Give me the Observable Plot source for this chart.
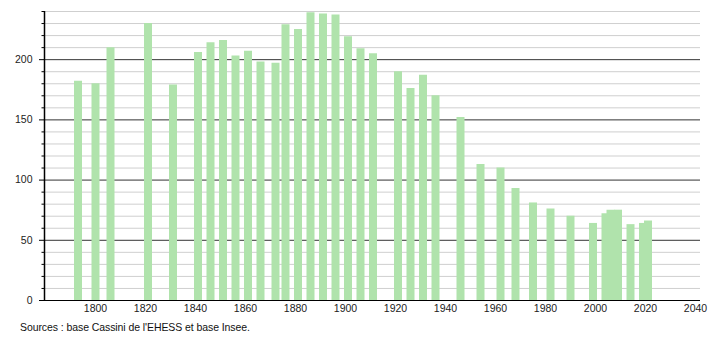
<!DOCTYPE html>
<html>
<head>
<meta charset="utf-8">
<script src="https://cdn.jsdelivr.net/npm/d3@7"></script>
<script src="https://cdn.jsdelivr.net/npm/@observablehq/plot@0.6"></script>
<style>
  html, body { margin: 0; padding: 0; background: #fff; }
  #wrap { position: relative; width: 710px; height: 340px; font-family: "Liberation Sans", Arial, sans-serif; }
  #caption { position: absolute; left: 20px; top: 321px; font-size: 10.5px; line-height: 13px; color: #111; letter-spacing: -0.08px; }
</style>
</head>
<body>
<div id="wrap"><div id="chart"></div><div id="caption">Sources : base Cassini de l'EHESS et base Insee.</div></div>
<script>
const years = [1793,1800,1806,1821,1831,1841,1846,1851,1856,1861,1866,1872,1876,1881,1886,1891,1896,1901,1906,1911,1921,1926,1931,1936,1946,1954,1962,1968,1975,1982,1990,1999,2004,2006,2009,2014,2019,2021];
const population = [182,180,210,230,179,206,214,216,203,207,198,197,229,225,239,238,237,219,209,205,190,176,187,170,152,113,110,93,81,76,70,64,72,75,75,63,64,66];
const xTicks = [1800,1820,1840,1860,1880,1900,1920,1940,1960,1980,2000,2020,2040];
const yMajor = [0,50,100,150,200];
const yMinor = [10,20,30,40,60,70,80,90,110,120,130,140,160,170,180,190,210,220,230,240];
const xDomain = [1779.6, 2042];
const yDomain = [0, 240];

const data = years.map((y, i) => ({year: y, value: population[i]}));

const chart = Plot.plot({
  width: 710,
  height: 318,
  marginLeft: 44,
  marginRight: 10,
  marginTop: 11,
  marginBottom: 18,
  style: {fontFamily: "'Liberation Sans', Arial, sans-serif", fontSize: "10.5px", color: "#222", background: "#fff"},
  x: {type: "linear", domain: xDomain, label: null},
  y: {domain: yDomain, label: null},
  marks: [
    Plot.ruleY(yMinor, {stroke: "#cfcfcf", strokeWidth: 1}),
    Plot.ruleY(yMajor.filter(d => d > 0), {stroke: "#333", strokeWidth: 1}),
    Plot.ruleX(data, {x: "year", y1: 0, y2: "value", stroke: "#b0e3ac", strokeWidth: 8}),
    Plot.ruleY([0], {stroke: "#000", strokeWidth: 1.2}),
    Plot.ruleX([xDomain[0]], {y1: yDomain[0], y2: yDomain[1], stroke: "#000", strokeWidth: 1.5}),
    Plot.axisY({ticks: yMinor, tickSize: 2.5, tickFormat: () => "", stroke: "#000", label: null}),
    Plot.axisY({ticks: yMajor, tickSize: 5, tickPadding: 7, stroke: "#000", fill: "#222", label: null}),
    Plot.axisX({ticks: xTicks, tickSize: 0, tickPadding: 4, tickFormat: d => String(d), fill: "#222", label: null})
  ]
});
document.getElementById("chart").appendChild(chart);
</script>
</body>
</html>
